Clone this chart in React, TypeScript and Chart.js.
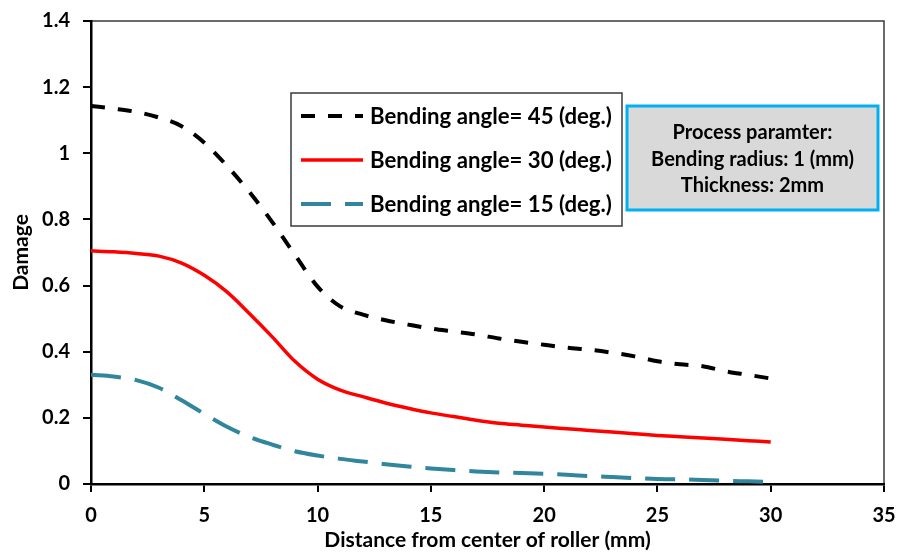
import React, { useEffect, useRef } from 'react';
import { Chart, registerables } from 'chart.js';

Chart.register(...registerables);

// ---- Data ----
const distances = [0, 1, 2, 3, 4, 5, 6, 7, 8, 9, 10, 11, 12, 13, 14, 15, 16, 17, 18, 19, 20, 21, 22, 23, 24, 25, 26, 27, 28, 29, 30];
const damage45 = [1.143, 1.135, 1.125, 1.108, 1.082, 1.032, 0.962, 0.882, 0.792, 0.693, 0.597, 0.537, 0.512, 0.495, 0.482, 0.47, 0.461, 0.452, 0.44, 0.43, 0.421, 0.412, 0.406, 0.397, 0.386, 0.371, 0.362, 0.356, 0.341, 0.33, 0.319];
const damage30 = [0.705, 0.702, 0.697, 0.689, 0.668, 0.631, 0.581, 0.515, 0.445, 0.371, 0.317, 0.284, 0.264, 0.245, 0.229, 0.215, 0.204, 0.193, 0.184, 0.178, 0.172, 0.167, 0.162, 0.157, 0.152, 0.147, 0.143, 0.139, 0.135, 0.131, 0.127];
const damage15 = [0.33, 0.325, 0.314, 0.291, 0.253, 0.212, 0.173, 0.142, 0.119, 0.099, 0.086, 0.076, 0.068, 0.06, 0.053, 0.047, 0.042, 0.038, 0.035, 0.033, 0.031, 0.028, 0.024, 0.021, 0.018, 0.015, 0.014, 0.012, 0.01, 0.008, 0.006];
const seriesLabels = ['Bending angle= 45 (deg.)', 'Bending angle= 30 (deg.)', 'Bending angle= 15 (deg.)'];
const processLines = ['Process paramter:', 'Bending radius: 1 (mm)', 'Thickness: 2mm'];
const xTitle = 'Distance from center of roller (mm)';
const yTitle = 'Damage';

const FAMILY = 'Lato, "Open Sans", "DejaVu Sans", sans-serif';

function fitFontSize(ctx: CanvasRenderingContext2D, text: string, target: number): number {
  ctx.font = `bold 20px ${FAMILY}`;
  const w = ctx.measureText(text).width;
  return (20 * target) / w;
}

const overlayPlugin = {
  id: 'overlay',
  beforeDraw(chart: any) {
    const { ctx, chartArea: a } = chart;
    ctx.save();
    ctx.strokeStyle = '#3a3a3a';
    ctx.lineWidth = 1.5;
    ctx.strokeRect(a.left, a.top, a.right - a.left, a.bottom - a.top);
    ctx.restore();
  },
  afterDraw(chart: any) {
    const { ctx } = chart;
    ctx.save();
    // Legend box
    const lx = 291, ly = 93, lw = 331, lh = 133;
    ctx.fillStyle = '#ffffff';
    ctx.fillRect(lx, ly, lw, lh);
    ctx.strokeStyle = '#3a3a3a';
    ctx.lineWidth = 1.5;
    ctx.strokeRect(lx, ly, lw, lh);
    const rows = [116, 160, 204];
    const legSize = fitFontSize(ctx, seriesLabels[0], 242);
    chart.data.datasets.forEach((ds: any, i: number) => {
      const y = rows[i];
      ctx.save();
      ctx.strokeStyle = ds.borderColor;
      ctx.lineWidth = ds.borderWidth;
      ctx.setLineDash(ds.borderDash || []);
      ctx.lineCap = 'butt';
      ctx.beginPath();
      ctx.moveTo(301, y);
      ctx.lineTo(363, y);
      ctx.stroke();
      ctx.restore();
      ctx.fillStyle = '#000';
      ctx.font = `bold ${legSize}px ${FAMILY}`;
      ctx.textAlign = 'left';
      ctx.textBaseline = 'middle';
      ctx.fillText(ds.label, 370, y + 1);
    });

    // Process parameter box
    const px = 627, py = 106, pw = 251, ph = 104;
    ctx.fillStyle = '#d9d9d9';
    ctx.fillRect(px, py, pw, ph);
    ctx.strokeStyle = '#00b0f0';
    ctx.lineWidth = 3;
    ctx.strokeRect(px, py, pw, ph);
    const pSize = fitFontSize(ctx, processLines[1], 203);
    ctx.fillStyle = '#000';
    ctx.font = `bold ${pSize}px ${FAMILY}`;
    ctx.textAlign = 'center';
    ctx.textBaseline = 'middle';
    const pRows = [133, 160, 186];
    processLines.forEach((t, i) => ctx.fillText(t, px + pw / 2, pRows[i]));
    ctx.restore();
  },
};

export default function App() {
  const ref = useRef<HTMLCanvasElement>(null);
  useEffect(() => {
    document.body.style.margin = '0';
    const tickFont = { family: FAMILY, size: 20, weight: 'bold' as const };
    const titleFont = { family: FAMILY, size: 21, weight: 'bold' as const };
    const mk = (arr: number[]) => distances.map((x, i) => ({ x, y: arr[i] }));
    const chart = new Chart(ref.current!, {
      type: 'line',
      data: {
        datasets: [
          { label: seriesLabels[0], data: mk(damage45), borderColor: '#000000', borderWidth: 4, borderDash: [14, 13], pointRadius: 0, cubicInterpolationMode: 'monotone', fill: false },
          { label: seriesLabels[1], data: mk(damage30), borderColor: '#ff0000', borderWidth: 3.5, borderDash: [], pointRadius: 0, cubicInterpolationMode: 'monotone', fill: false },
          { label: seriesLabels[2], data: mk(damage15), borderColor: '#31859c', borderWidth: 4, borderDash: [30, 14], pointRadius: 0, cubicInterpolationMode: 'monotone', fill: false },
        ],
      },
      options: {
        responsive: false,
        animation: false,
        devicePixelRatio: 1,
        layout: { padding: { left: 0, right: 14, top: 21, bottom: 0 } },
        plugins: { legend: { display: false }, tooltip: { enabled: false } },
        scales: {
          x: {
            type: 'linear',
            min: 0,
            max: 35,
            ticks: { stepSize: 5, font: tickFont, color: '#000', padding: 12, maxRotation: 0 },
            grid: { drawOnChartArea: false, color: '#000', lineWidth: 2, tickLength: 8 },
            border: { color: '#000', width: 2.5 },
            title: { display: true, text: xTitle, font: titleFont, color: '#000', padding: { top: 0, bottom: 0 } },
            afterFit: (s: any) => { s.height = 69; s.paddingLeft = 0; s.paddingRight = 0; },
          },
          y: {
            type: 'linear',
            min: 0,
            max: 1.4,
            ticks: { stepSize: 0.2, font: tickFont, color: '#000', padding: 13, callback: (v: any) => String(Math.round(Number(v) * 10) / 10) },
            grid: { drawOnChartArea: false, color: '#000', lineWidth: 2, tickLength: 8 },
            border: { color: '#000', width: 2.5 },
            title: { display: true, text: yTitle, font: titleFont, color: '#000', padding: { top: 9, bottom: 0 } },
            afterFit: (s: any) => { s.width = 91; s.paddingTop = 0; s.paddingBottom = 0; },
          },
        },
      },
      plugins: [overlayPlugin],
    } as any);
    return () => chart.destroy();
  }, []);
  return (
    <div style={{ position: 'absolute', left: 0, top: 0, width: 898, height: 553, background: '#fff' }}>
      <canvas ref={ref} width={898} height={553} style={{ display: 'block', width: 898, height: 553 }} />
    </div>
  );
}
